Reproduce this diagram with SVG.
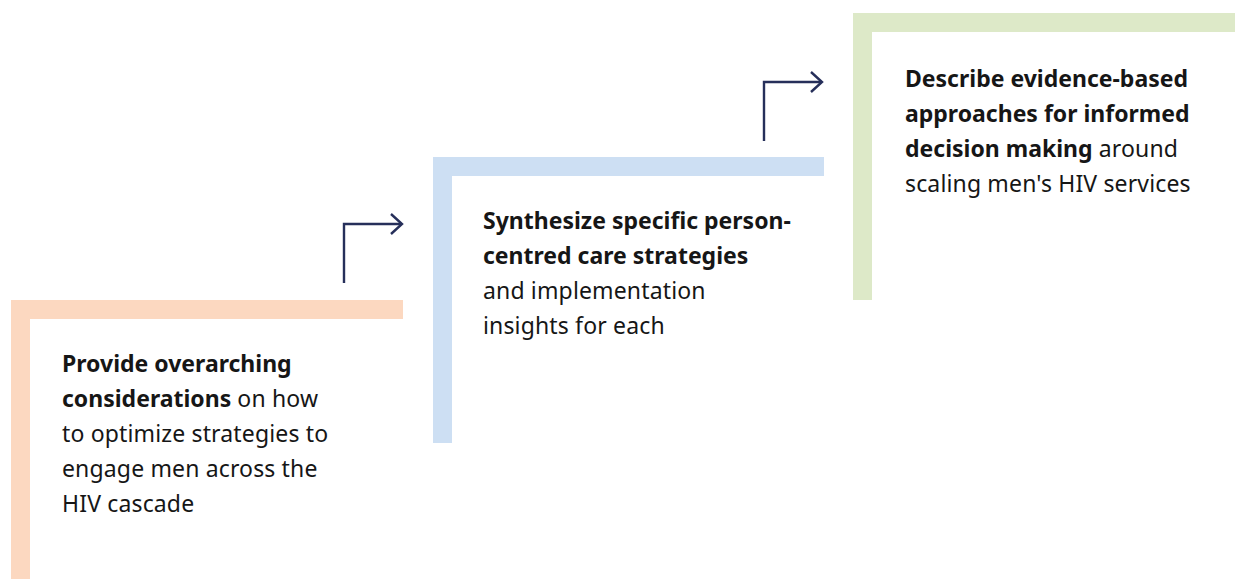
<svg xmlns="http://www.w3.org/2000/svg" width="1235" height="579" viewBox="0 0 1235 579">
  <style>
    .txt { font-family: "Noto Sans", "Open Sans", sans-serif; font-size: 23px; fill: #161616; letter-spacing: 0.15px; }
    .b { font-weight: 700; letter-spacing: 0; }
    .conn { fill: none; stroke: #262f5a; stroke-width: 2.4; stroke-linecap: butt; stroke-linejoin: miter; }
  </style>
  <rect width="1235" height="579" fill="#ffffff"/>

  <!-- Step 1 -->
  <g id="step-1">
    <path d="M11,579 V300 H403 V319 H30 V579 Z" fill="#fcd8c0"/>
    <text class="txt" x="62">
      <tspan x="62" y="372" class="b">Provide overarching</tspan>
      <tspan x="62" y="407"><tspan class="b">considerations</tspan> on how</tspan>
      <tspan x="62" y="442">to optimize strategies to</tspan>
      <tspan x="62" y="477">engage men across the</tspan>
      <tspan x="62" y="512">HIV cascade</tspan>
    </text>
  </g>

  <!-- Step 2 -->
  <g id="step-2">
    <path d="M433,443 V157 H824 V176 H452 V443 Z" fill="#cddff3"/>
    <text class="txt" x="483">
      <tspan x="483" y="229" class="b">Synthesize specific person-</tspan>
      <tspan x="483" y="264" class="b">centred care strategies</tspan>
      <tspan x="483" y="299">and implementation</tspan>
      <tspan x="483" y="334">insights for each</tspan>
    </text>
  </g>

  <!-- Step 3 -->
  <g id="step-3">
    <path d="M853,300 V13 H1235 V32 H872 V300 Z" fill="#dde9c8"/>
    <text class="txt" x="905">
      <tspan x="905" y="87" class="b">Describe evidence-based</tspan>
      <tspan x="905" y="122" class="b">approaches for informed</tspan>
      <tspan x="905" y="157"><tspan class="b">decision making</tspan> around</tspan>
      <tspan x="905" y="192">scaling men's HIV services</tspan>
    </text>
  </g>

  <!-- Step-up connectors -->
  <g id="connectors">
    <path class="conn" d="M344,283 V224 H401"/>
    <path class="conn" d="M391,214 L402,224 L391,234"/>
    <path class="conn" d="M764,141 V82 H821"/>
    <path class="conn" d="M811,72 L822,82 L811,92"/>
  </g>
</svg>
